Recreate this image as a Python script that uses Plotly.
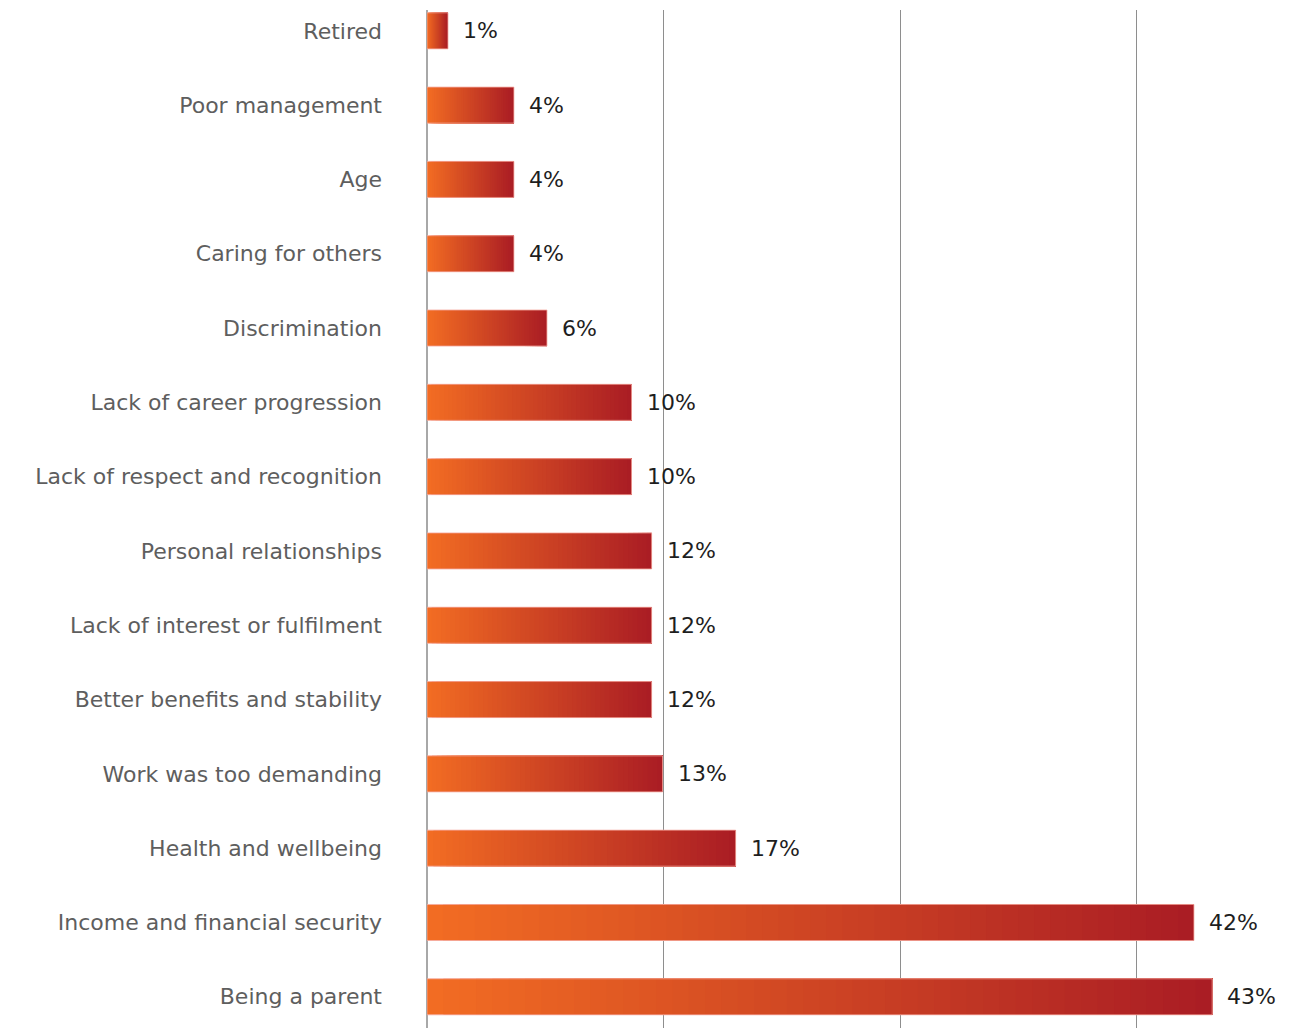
import plotly.graph_objects as go

# Reasons, top to bottom as shown
reasons = [
    'Retired', 'Poor management', 'Age', 'Caring for others', 'Discrimination',
    'Lack of career progression', 'Lack of respect and recognition',
    'Personal relationships', 'Lack of interest or fulfilment',
    'Better benefits and stability', 'Work was too demanding',
    'Health and wellbeing', 'Income and financial security', 'Being a parent'
]
# bar lengths as drawn (percent)
values = [1.15, 4.76, 4.76, 4.76, 6.57, 11.2, 11.2, 12.3, 12.3, 12.3, 12.9, 16.9, 42.0, 43.0]
# labels printed next to the bars
labels = ['1%', '4%', '4%', '4%', '6%', '10%', '10%', '12%', '12%', '12%', '13%', '17%', '42%', '43%']

# Gradient ends
start_rgb = (242, 108, 35)
end_rgb = (170, 29, 36)
n_steps = 48

FONT = 'DejaVu Sans'


def mix(t):
    r, g, b = [round(a + (b - a) * t) for a, b in zip(start_rgb, end_rgb)]
    return f'rgb({r},{g},{b})'


fig = go.Figure()

# each bar is drawn as overlapping slices so it fades orange -> red along its own length
# (each slice runs to the bar end, the next one is drawn over it -> no seams)
for i in range(n_steps):
    fig.add_trace(go.Bar(
        y=reasons,
        x=[v * (n_steps - i) / n_steps for v in values],
        base=[v * i / n_steps for v in values],
        orientation='h',
        width=0.485,
        marker=dict(color=mix(i / (n_steps - 1)), line=dict(width=0)),
        showlegend=False,
        hoverinfo='skip'
    ))

# thin light outline on top
fig.add_trace(go.Bar(
    y=reasons,
    x=values,
    orientation='h',
    width=0.485,
    marker=dict(color='rgba(0,0,0,0)', line=dict(color='rgba(245,170,160,0.8)', width=1)),
    showlegend=False,
    hovertemplate='%{y}: %{x}<extra></extra>'
))

for reason, value, label in zip(reasons, values, labels):
    fig.add_annotation(
        x=value, y=reason, text=label,
        xanchor='left', yanchor='middle', xshift=13,
        showarrow=False,
        font=dict(family=FONT, size=22, color='#1e1e1e')
    )

fig.update_layout(
    barmode='overlay',
    width=1305,
    height=1020,
    margin=dict(l=419, r=23, t=2, b=0),
    paper_bgcolor='white',
    plot_bgcolor='white',
    font=dict(family=FONT, size=22, color='#5e5e5e'),
    xaxis=dict(
        range=[0, 47.26],
        tick0=0,
        dtick=12.96,
        showticklabels=False,
        showgrid=True,
        gridcolor='#8e8e8e',
        gridwidth=1,
        zeroline=True,
        zerolinecolor='#a8a8a8',
        zerolinewidth=2,
        fixedrange=True
    ),
    yaxis=dict(
        categoryorder='array',
        categoryarray=reasons,
        range=[13.42, -0.28],
        ticklabelstandoff=44,
        showgrid=False,
        ticks='',
        fixedrange=True
    )
)

fig.write_html("out.html")
